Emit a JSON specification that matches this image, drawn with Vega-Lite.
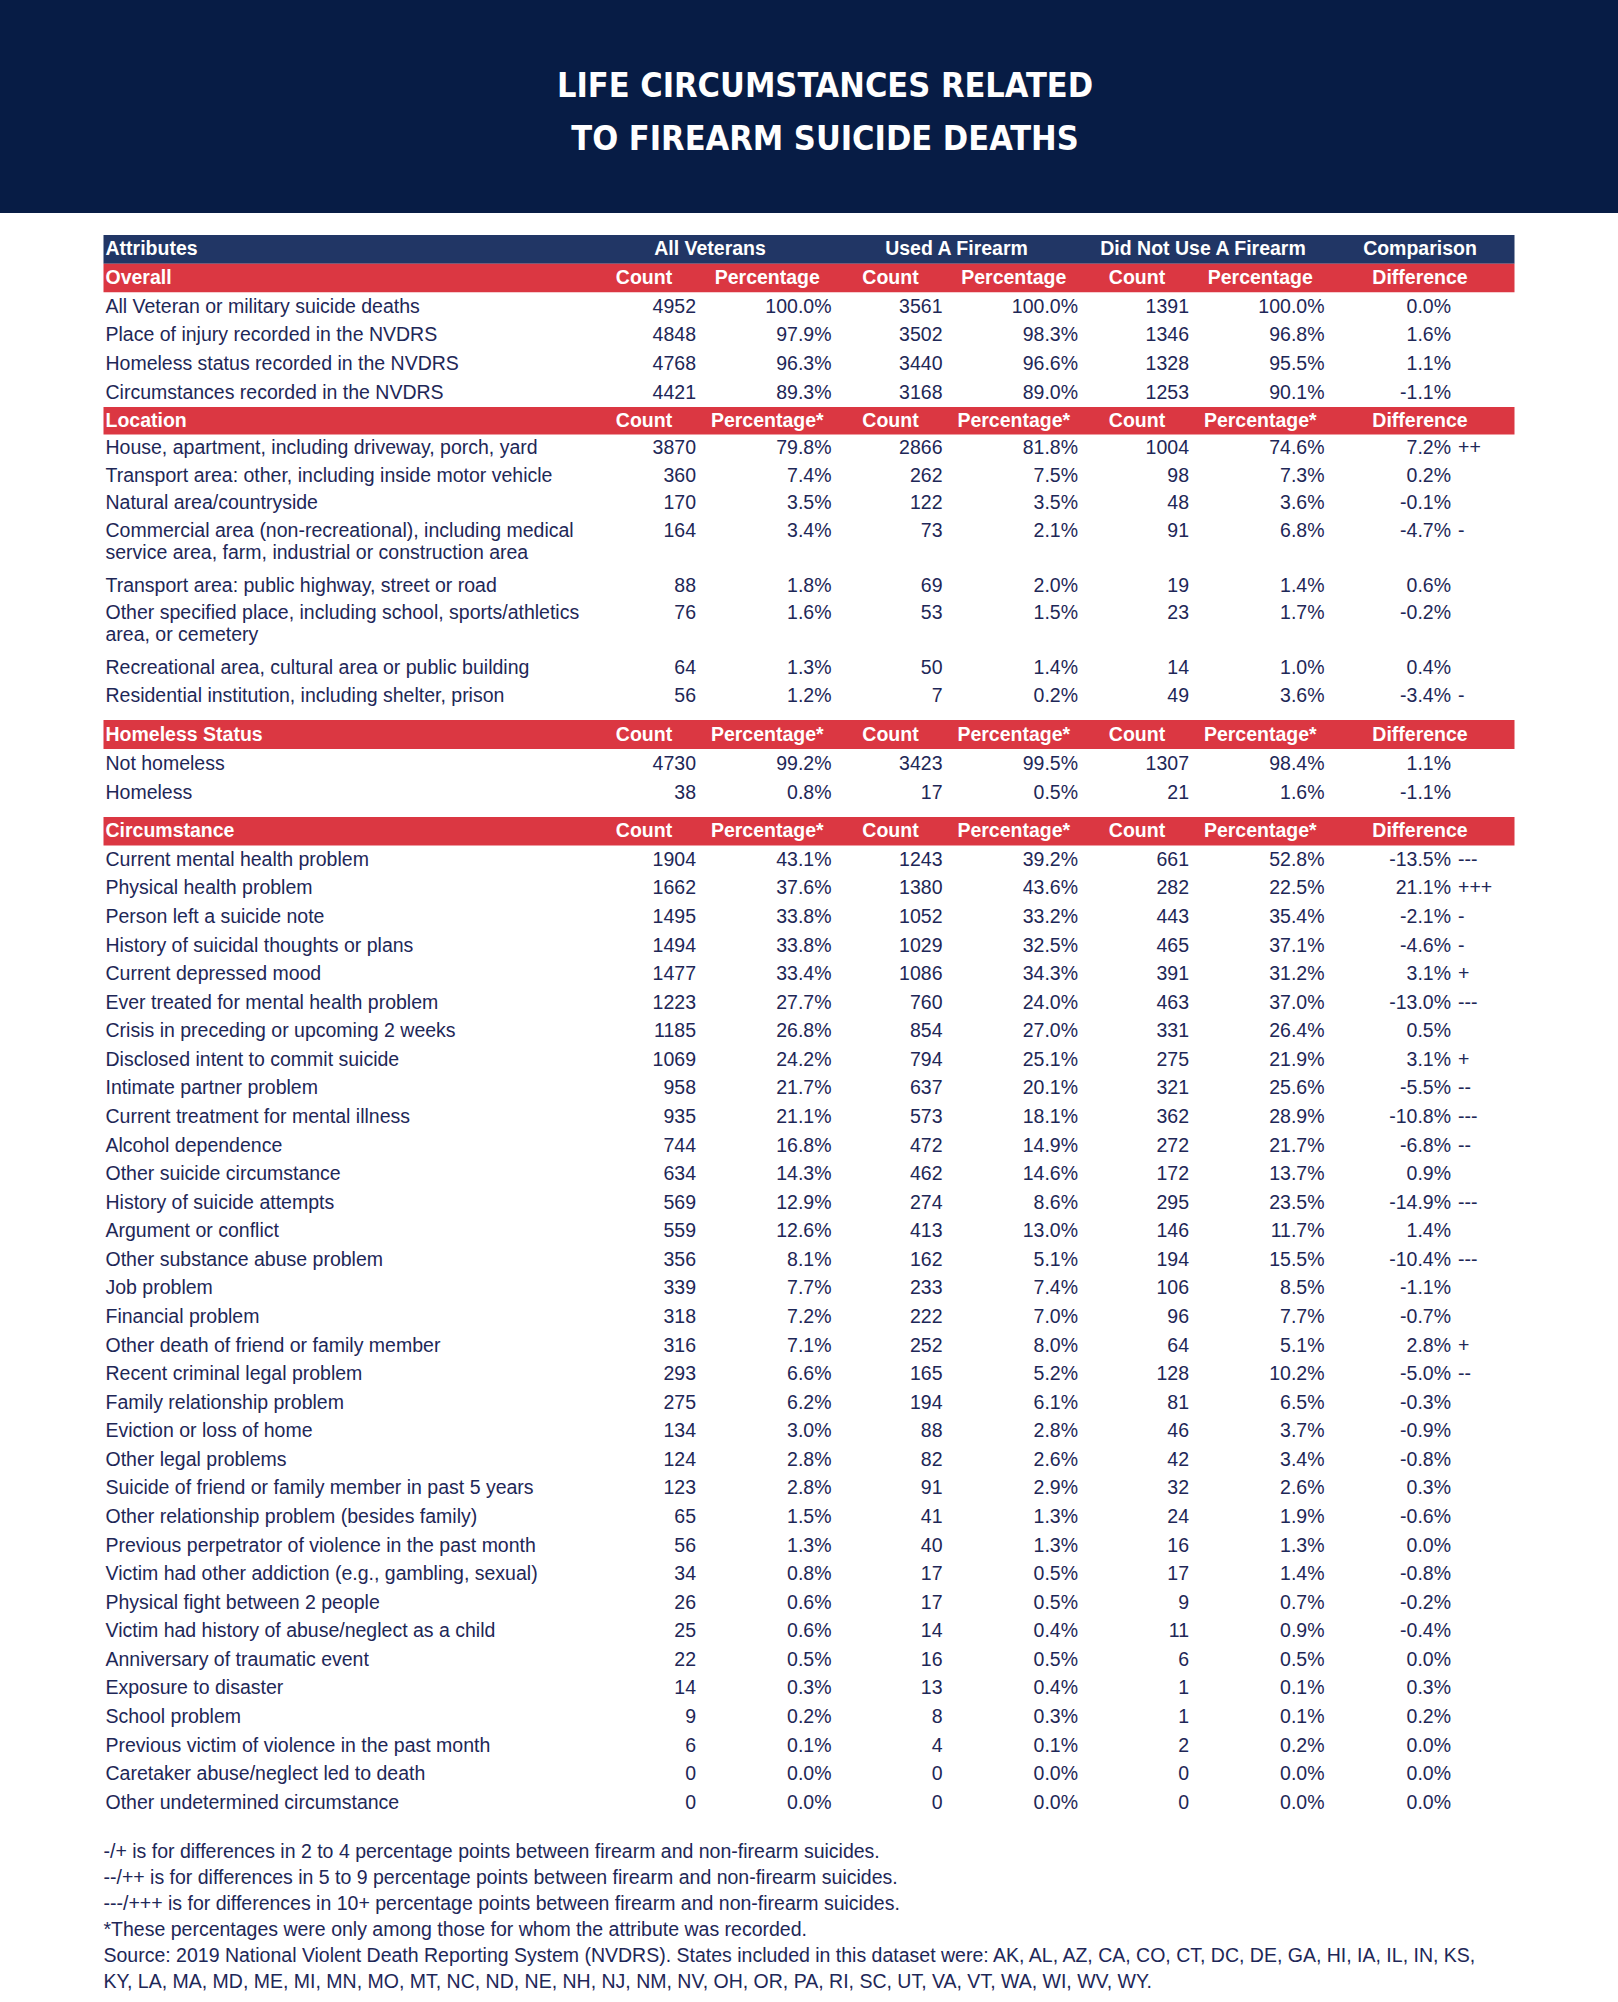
{
  "$schema": "https://vega.github.io/schema/vega-lite/v6.json",
  "padding": 0,
  "background": "white",
  "config": {
    "view": {"stroke": null},
    "text": {"font": "Liberation Sans", "fontSize": 19.5, "color": "#1E2757"},
    "locale": {"number": {"decimal": ".", "thousands": ",", "grouping": [3], "currency": ["$", ""], "minus": "-"}}
  },
  "datasets": {
    "titleLines": [
      {"line": "LIFE CIRCUMSTANCES RELATED"},
      {"line": "TO FIREARM SUICIDE DEATHS"}
    ],
    "notes": [
      {"note": "-/+ is for differences in 2 to 4 percentage points between firearm and non-firearm suicides."},
      {"note": "--/++ is for differences in 5 to 9 percentage points between firearm and non-firearm suicides."},
      {"note": "---/+++ is for differences in 10+ percentage points between firearm and non-firearm suicides."},
      {"note": "*These percentages were only among those for whom the attribute was recorded."},
      {"note": "Source: 2019 National Violent Death Reporting System (NVDRS). States included in this dataset were: AK, AL, AZ, CA, CO, CT, DC, DE, GA, HI, IA, IL, IN, KS,"},
      {"note": "KY, LA, MA, MD, ME, MI, MN, MO, MT, NC, ND, NE, NH, NJ, NM, NV, OH, OR, PA, RI, SC, UT, VA, VT, WA, WI, WV, WY."}
    ],
    "table": [
      {"section": "Overall", "kind": "group", "attribute": "Attributes", "all_count": "All Veterans", "fa_count": "Used A Firearm", "nf_count": "Did Not Use A Firearm", "diff": "Comparison"},
      {"section": "Overall", "kind": "header", "attribute": "Overall", "all_count": "Count", "all_pct": "Percentage", "fa_count": "Count", "fa_pct": "Percentage", "nf_count": "Count", "nf_pct": "Percentage", "diff": "Difference"},
      {"section": "Overall", "kind": "data", "attribute": "All Veteran or military suicide deaths", "all_count": 4952, "all_pct": 1.0, "fa_count": 3561, "fa_pct": 1.0, "nf_count": 1391, "nf_pct": 1.0, "diff": 0.0, "sig": ""},
      {"section": "Overall", "kind": "data", "attribute": "Place of injury recorded in the NVDRS", "all_count": 4848, "all_pct": 0.979, "fa_count": 3502, "fa_pct": 0.983, "nf_count": 1346, "nf_pct": 0.968, "diff": 0.016, "sig": ""},
      {"section": "Overall", "kind": "data", "attribute": "Homeless status recorded in the NVDRS", "all_count": 4768, "all_pct": 0.963, "fa_count": 3440, "fa_pct": 0.966, "nf_count": 1328, "nf_pct": 0.955, "diff": 0.011, "sig": ""},
      {"section": "Overall", "kind": "data", "attribute": "Circumstances recorded in the NVDRS", "all_count": 4421, "all_pct": 0.893, "fa_count": 3168, "fa_pct": 0.89, "nf_count": 1253, "nf_pct": 0.901, "diff": -0.011, "sig": ""},

      {"section": "Location", "kind": "header", "attribute": "Location", "all_count": "Count", "all_pct": "Percentage*", "fa_count": "Count", "fa_pct": "Percentage*", "nf_count": "Count", "nf_pct": "Percentage*", "diff": "Difference"},
      {"section": "Location", "kind": "data", "attribute": "House, apartment, including driveway, porch, yard", "all_count": 3870, "all_pct": 0.798, "fa_count": 2866, "fa_pct": 0.818, "nf_count": 1004, "nf_pct": 0.746, "diff": 0.072, "sig": "++"},
      {"section": "Location", "kind": "data", "attribute": "Transport area: other, including inside motor vehicle", "all_count": 360, "all_pct": 0.074, "fa_count": 262, "fa_pct": 0.075, "nf_count": 98, "nf_pct": 0.073, "diff": 0.002, "sig": ""},
      {"section": "Location", "kind": "data", "attribute": "Natural area/countryside", "all_count": 170, "all_pct": 0.035, "fa_count": 122, "fa_pct": 0.035, "nf_count": 48, "nf_pct": 0.036, "diff": -0.001, "sig": ""},
      {"section": "Location", "kind": "data", "attribute": "Commercial area (non-recreational), including medical\nservice area, farm, industrial or construction area", "all_count": 164, "all_pct": 0.034, "fa_count": 73, "fa_pct": 0.021, "nf_count": 91, "nf_pct": 0.068, "diff": -0.047, "sig": "-"},
      {"section": "Location", "kind": "data", "attribute": "Transport area: public highway, street or road", "all_count": 88, "all_pct": 0.018, "fa_count": 69, "fa_pct": 0.02, "nf_count": 19, "nf_pct": 0.014, "diff": 0.006, "sig": ""},
      {"section": "Location", "kind": "data", "attribute": "Other specified place, including school, sports/athletics\narea, or cemetery", "all_count": 76, "all_pct": 0.016, "fa_count": 53, "fa_pct": 0.015, "nf_count": 23, "nf_pct": 0.017, "diff": -0.002, "sig": ""},
      {"section": "Location", "kind": "data", "attribute": "Recreational area, cultural area or public building", "all_count": 64, "all_pct": 0.013, "fa_count": 50, "fa_pct": 0.014, "nf_count": 14, "nf_pct": 0.01, "diff": 0.004, "sig": ""},
      {"section": "Location", "kind": "data", "attribute": "Residential institution, including shelter, prison", "all_count": 56, "all_pct": 0.012, "fa_count": 7, "fa_pct": 0.002, "nf_count": 49, "nf_pct": 0.036, "diff": -0.034, "sig": "-"},

      {"section": "Homeless Status", "kind": "header", "attribute": "Homeless Status", "all_count": "Count", "all_pct": "Percentage*", "fa_count": "Count", "fa_pct": "Percentage*", "nf_count": "Count", "nf_pct": "Percentage*", "diff": "Difference"},
      {"section": "Homeless Status", "kind": "data", "attribute": "Not homeless", "all_count": 4730, "all_pct": 0.992, "fa_count": 3423, "fa_pct": 0.995, "nf_count": 1307, "nf_pct": 0.984, "diff": 0.011, "sig": ""},
      {"section": "Homeless Status", "kind": "data", "attribute": "Homeless", "all_count": 38, "all_pct": 0.008, "fa_count": 17, "fa_pct": 0.005, "nf_count": 21, "nf_pct": 0.016, "diff": -0.011, "sig": ""},

      {"section": "Circumstance", "kind": "header", "attribute": "Circumstance", "all_count": "Count", "all_pct": "Percentage*", "fa_count": "Count", "fa_pct": "Percentage*", "nf_count": "Count", "nf_pct": "Percentage*", "diff": "Difference"},
      {"section": "Circumstance", "kind": "data", "attribute": "Current mental health problem", "all_count": 1904, "all_pct": 0.431, "fa_count": 1243, "fa_pct": 0.392, "nf_count": 661, "nf_pct": 0.528, "diff": -0.135, "sig": "---"},
      {"section": "Circumstance", "kind": "data", "attribute": "Physical health problem", "all_count": 1662, "all_pct": 0.376, "fa_count": 1380, "fa_pct": 0.436, "nf_count": 282, "nf_pct": 0.225, "diff": 0.211, "sig": "+++"},
      {"section": "Circumstance", "kind": "data", "attribute": "Person left a suicide note", "all_count": 1495, "all_pct": 0.338, "fa_count": 1052, "fa_pct": 0.332, "nf_count": 443, "nf_pct": 0.354, "diff": -0.021, "sig": "-"},
      {"section": "Circumstance", "kind": "data", "attribute": "History of suicidal thoughts or plans", "all_count": 1494, "all_pct": 0.338, "fa_count": 1029, "fa_pct": 0.325, "nf_count": 465, "nf_pct": 0.371, "diff": -0.046, "sig": "-"},
      {"section": "Circumstance", "kind": "data", "attribute": "Current depressed mood", "all_count": 1477, "all_pct": 0.334, "fa_count": 1086, "fa_pct": 0.343, "nf_count": 391, "nf_pct": 0.312, "diff": 0.031, "sig": "+"},
      {"section": "Circumstance", "kind": "data", "attribute": "Ever treated for mental health problem", "all_count": 1223, "all_pct": 0.277, "fa_count": 760, "fa_pct": 0.24, "nf_count": 463, "nf_pct": 0.37, "diff": -0.13, "sig": "---"},
      {"section": "Circumstance", "kind": "data", "attribute": "Crisis in preceding or upcoming 2 weeks", "all_count": 1185, "all_pct": 0.268, "fa_count": 854, "fa_pct": 0.27, "nf_count": 331, "nf_pct": 0.264, "diff": 0.005, "sig": ""},
      {"section": "Circumstance", "kind": "data", "attribute": "Disclosed intent to commit suicide", "all_count": 1069, "all_pct": 0.242, "fa_count": 794, "fa_pct": 0.251, "nf_count": 275, "nf_pct": 0.219, "diff": 0.031, "sig": "+"},
      {"section": "Circumstance", "kind": "data", "attribute": "Intimate partner problem", "all_count": 958, "all_pct": 0.217, "fa_count": 637, "fa_pct": 0.201, "nf_count": 321, "nf_pct": 0.256, "diff": -0.055, "sig": "--"},
      {"section": "Circumstance", "kind": "data", "attribute": "Current treatment for mental illness", "all_count": 935, "all_pct": 0.211, "fa_count": 573, "fa_pct": 0.181, "nf_count": 362, "nf_pct": 0.289, "diff": -0.108, "sig": "---"},
      {"section": "Circumstance", "kind": "data", "attribute": "Alcohol dependence", "all_count": 744, "all_pct": 0.168, "fa_count": 472, "fa_pct": 0.149, "nf_count": 272, "nf_pct": 0.217, "diff": -0.068, "sig": "--"},
      {"section": "Circumstance", "kind": "data", "attribute": "Other suicide circumstance", "all_count": 634, "all_pct": 0.143, "fa_count": 462, "fa_pct": 0.146, "nf_count": 172, "nf_pct": 0.137, "diff": 0.009, "sig": ""},
      {"section": "Circumstance", "kind": "data", "attribute": "History of suicide attempts", "all_count": 569, "all_pct": 0.129, "fa_count": 274, "fa_pct": 0.086, "nf_count": 295, "nf_pct": 0.235, "diff": -0.149, "sig": "---"},
      {"section": "Circumstance", "kind": "data", "attribute": "Argument or conflict", "all_count": 559, "all_pct": 0.126, "fa_count": 413, "fa_pct": 0.13, "nf_count": 146, "nf_pct": 0.117, "diff": 0.014, "sig": ""},
      {"section": "Circumstance", "kind": "data", "attribute": "Other substance abuse problem", "all_count": 356, "all_pct": 0.081, "fa_count": 162, "fa_pct": 0.051, "nf_count": 194, "nf_pct": 0.155, "diff": -0.104, "sig": "---"},
      {"section": "Circumstance", "kind": "data", "attribute": "Job problem", "all_count": 339, "all_pct": 0.077, "fa_count": 233, "fa_pct": 0.074, "nf_count": 106, "nf_pct": 0.085, "diff": -0.011, "sig": ""},
      {"section": "Circumstance", "kind": "data", "attribute": "Financial problem", "all_count": 318, "all_pct": 0.072, "fa_count": 222, "fa_pct": 0.07, "nf_count": 96, "nf_pct": 0.077, "diff": -0.007, "sig": ""},
      {"section": "Circumstance", "kind": "data", "attribute": "Other death of friend or family member", "all_count": 316, "all_pct": 0.071, "fa_count": 252, "fa_pct": 0.08, "nf_count": 64, "nf_pct": 0.051, "diff": 0.028, "sig": "+"},
      {"section": "Circumstance", "kind": "data", "attribute": "Recent criminal legal problem", "all_count": 293, "all_pct": 0.066, "fa_count": 165, "fa_pct": 0.052, "nf_count": 128, "nf_pct": 0.102, "diff": -0.05, "sig": "--"},
      {"section": "Circumstance", "kind": "data", "attribute": "Family relationship problem", "all_count": 275, "all_pct": 0.062, "fa_count": 194, "fa_pct": 0.061, "nf_count": 81, "nf_pct": 0.065, "diff": -0.003, "sig": ""},
      {"section": "Circumstance", "kind": "data", "attribute": "Eviction or loss of home", "all_count": 134, "all_pct": 0.03, "fa_count": 88, "fa_pct": 0.028, "nf_count": 46, "nf_pct": 0.037, "diff": -0.009, "sig": ""},
      {"section": "Circumstance", "kind": "data", "attribute": "Other legal problems", "all_count": 124, "all_pct": 0.028, "fa_count": 82, "fa_pct": 0.026, "nf_count": 42, "nf_pct": 0.034, "diff": -0.008, "sig": ""},
      {"section": "Circumstance", "kind": "data", "attribute": "Suicide of friend or family member in past 5 years", "all_count": 123, "all_pct": 0.028, "fa_count": 91, "fa_pct": 0.029, "nf_count": 32, "nf_pct": 0.026, "diff": 0.003, "sig": ""},
      {"section": "Circumstance", "kind": "data", "attribute": "Other relationship problem (besides family)", "all_count": 65, "all_pct": 0.015, "fa_count": 41, "fa_pct": 0.013, "nf_count": 24, "nf_pct": 0.019, "diff": -0.006, "sig": ""},
      {"section": "Circumstance", "kind": "data", "attribute": "Previous perpetrator of violence in the past month", "all_count": 56, "all_pct": 0.013, "fa_count": 40, "fa_pct": 0.013, "nf_count": 16, "nf_pct": 0.013, "diff": 0.0, "sig": ""},
      {"section": "Circumstance", "kind": "data", "attribute": "Victim had other addiction (e.g., gambling, sexual)", "all_count": 34, "all_pct": 0.008, "fa_count": 17, "fa_pct": 0.005, "nf_count": 17, "nf_pct": 0.014, "diff": -0.008, "sig": ""},
      {"section": "Circumstance", "kind": "data", "attribute": "Physical fight between 2 people", "all_count": 26, "all_pct": 0.006, "fa_count": 17, "fa_pct": 0.005, "nf_count": 9, "nf_pct": 0.007, "diff": -0.002, "sig": ""},
      {"section": "Circumstance", "kind": "data", "attribute": "Victim had history of abuse/neglect as a child", "all_count": 25, "all_pct": 0.006, "fa_count": 14, "fa_pct": 0.004, "nf_count": 11, "nf_pct": 0.009, "diff": -0.004, "sig": ""},
      {"section": "Circumstance", "kind": "data", "attribute": "Anniversary of traumatic event", "all_count": 22, "all_pct": 0.005, "fa_count": 16, "fa_pct": 0.005, "nf_count": 6, "nf_pct": 0.005, "diff": 0.0, "sig": ""},
      {"section": "Circumstance", "kind": "data", "attribute": "Exposure to disaster", "all_count": 14, "all_pct": 0.003, "fa_count": 13, "fa_pct": 0.004, "nf_count": 1, "nf_pct": 0.001, "diff": 0.003, "sig": ""},
      {"section": "Circumstance", "kind": "data", "attribute": "School problem", "all_count": 9, "all_pct": 0.002, "fa_count": 8, "fa_pct": 0.003, "nf_count": 1, "nf_pct": 0.001, "diff": 0.002, "sig": ""},
      {"section": "Circumstance", "kind": "data", "attribute": "Previous victim of violence in the past month", "all_count": 6, "all_pct": 0.001, "fa_count": 4, "fa_pct": 0.001, "nf_count": 2, "nf_pct": 0.002, "diff": 0.0, "sig": ""},
      {"section": "Circumstance", "kind": "data", "attribute": "Caretaker abuse/neglect led to death", "all_count": 0, "all_pct": 0.0, "fa_count": 0, "fa_pct": 0.0, "nf_count": 0, "nf_pct": 0.0, "diff": 0.0, "sig": ""},
      {"section": "Circumstance", "kind": "data", "attribute": "Other undetermined circumstance", "all_count": 0, "all_pct": 0.0, "fa_count": 0, "fa_pct": 0.0, "nf_count": 0, "nf_pct": 0.0, "diff": 0.0, "sig": ""}
    ]
  },
  "vconcat": [
    {
      "width": 1618,
      "height": 213,
      "view": {"fill": "#071C45", "stroke": null},
      "data": {"name": "titleLines"},
      "mark": {"type": "text", "font": "DejaVu Sans Condensed, Liberation Sans Narrow, sans-serif", "fontWeight": "bold", "fontSize": 34, "color": "white", "align": "center", "baseline": "middle", "dx": 16, "dy": 7},
      "encoding": {
        "y": {"field": "line", "type": "nominal", "sort": null, "axis": null, "scale": {"type": "band", "paddingInner": 0, "paddingOuter": 1.088}},
        "text": {"field": "line"}
      }
    },
    {
      "vconcat": [
        {
          "vconcat": [
            {
              "width": 1411,
              "height": 172,
              "data": {"name": "table"},
              "transform": [{"filter": "datum.section === 'Overall'"}, {"window": [{"op": "row_number", "as": "rn"}]}],
              "encoding": {"y": {"field": "rn", "type": "ordinal", "axis": null, "scale": {"type": "band", "paddingInner": 0, "paddingOuter": 0}}},
              "layer": [
                {"transform": [{"filter": "datum.kind !== 'data'"}], "mark": {"type": "rect"}, "encoding": {"color": {"condition": {"test": "datum.kind === 'group'", "value": "#213665"}, "value": "#DB3742"}}},
                {"transform": [{"filter": "datum.kind !== 'data'"}], "mark": {"type": "text", "align": "left", "baseline": "middle", "dx": -590.5, "fontWeight": "bold", "color": "white"}, "encoding": {"x": {"datum": "all_count", "type": "nominal", "axis": null, "scale": {"type": "point", "domain": ["all_count", "all_pct", "fa_count", "fa_pct", "nf_count", "nf_pct", "diff"], "range": [592.5, 1332], "padding": 0}}, "text": {"field": "attribute"}}},
                {"transform": [{"filter": "datum.kind === 'data'"}], "mark": {"type": "text", "align": "left", "baseline": "top", "dy": -9, "dx": -590.5, "lineBreak": "\n", "lineHeight": 22}, "encoding": {"x": {"datum": "all_count", "type": "nominal"}, "text": {"field": "attribute"}}},
                {"transform": [{"filter": "datum.kind === 'data'"}, {"fold": ["all_count", "fa_count", "nf_count"], "as": ["col", "value"]}], "mark": {"type": "text", "align": "right", "baseline": "middle"}, "encoding": {"x": {"field": "col", "type": "nominal"}, "text": {"field": "value", "type": "quantitative", "format": "d"}}},
                {"transform": [{"filter": "datum.kind === 'data'"}, {"fold": ["all_pct", "fa_pct", "nf_pct"], "as": ["col", "value"]}], "mark": {"type": "text", "align": "right", "baseline": "middle", "dx": 12.25}, "encoding": {"x": {"field": "col", "type": "nominal"}, "text": {"field": "value", "type": "quantitative", "format": ".1%"}}},
                {"transform": [{"filter": "datum.kind === 'data'"}], "mark": {"type": "text", "align": "right", "baseline": "middle", "dx": 15.5}, "encoding": {"x": {"datum": "diff", "type": "nominal"}, "text": {"field": "diff", "type": "quantitative", "format": ".1%"}}},
                {"transform": [{"filter": "datum.kind === 'data'"}], "mark": {"type": "text", "align": "left", "baseline": "middle", "dx": 22.5}, "encoding": {"x": {"datum": "diff", "type": "nominal"}, "text": {"field": "sig"}}},
                {"transform": [{"filter": "datum.kind === 'header'"}, {"fold": ["all_count", "all_pct", "fa_count", "fa_pct", "nf_count", "nf_pct"], "as": ["col", "value"]}], "mark": {"type": "text", "align": "center", "baseline": "middle", "dx": -52, "fontWeight": "bold", "color": "white"}, "encoding": {"x": {"field": "col", "type": "nominal"}, "text": {"field": "value"}}},
                {"transform": [{"filter": "datum.kind === 'group'"}, {"fold": ["all_count", "fa_count", "nf_count"], "as": ["col", "value"]}], "mark": {"type": "text", "align": "center", "baseline": "middle", "dx": 14, "fontWeight": "bold", "color": "white"}, "encoding": {"x": {"field": "col", "type": "nominal"}, "text": {"field": "value"}}},
                {"transform": [{"filter": "datum.kind !== 'data'"}], "mark": {"type": "text", "align": "center", "baseline": "middle", "dx": -15.5, "fontWeight": "bold", "color": "white"}, "encoding": {"x": {"datum": "diff", "type": "nominal"}, "text": {"field": "diff"}}}
              ]
            },
            {
              "width": 1411,
              "height": 302.5,
              "data": {"name": "table"},
              "transform": [{"filter": "datum.section === 'Location'"}, {"window": [{"op": "row_number", "as": "rn"}]}],
              "encoding": {"y": {"field": "rn", "type": "ordinal", "axis": null, "scale": {"type": "band", "domain": [1, 2, 3, 4, 5, 5.5, 6, 7, 7.5, 8, 9], "paddingInner": 0, "paddingOuter": 0}}},
              "layer": [
                {"transform": [{"filter": "datum.kind !== 'data'"}], "mark": {"type": "rect"}, "encoding": {"color": {"value": "#DB3742"}}},
                {"transform": [{"filter": "datum.kind !== 'data'"}], "mark": {"type": "text", "align": "left", "baseline": "middle", "dx": -590.5, "fontWeight": "bold", "color": "white"}, "encoding": {"x": {"datum": "all_count", "type": "nominal", "axis": null, "scale": {"type": "point", "domain": ["all_count", "all_pct", "fa_count", "fa_pct", "nf_count", "nf_pct", "diff"], "range": [592.5, 1332], "padding": 0}}, "text": {"field": "attribute"}}},
                {"transform": [{"filter": "datum.kind === 'data'"}], "mark": {"type": "text", "align": "left", "baseline": "top", "dy": -9, "dx": -590.5, "lineBreak": "\n", "lineHeight": 22}, "encoding": {"x": {"datum": "all_count", "type": "nominal"}, "text": {"field": "attribute"}}},
                {"transform": [{"filter": "datum.kind === 'data'"}, {"fold": ["all_count", "fa_count", "nf_count"], "as": ["col", "value"]}], "mark": {"type": "text", "align": "right", "baseline": "middle"}, "encoding": {"x": {"field": "col", "type": "nominal"}, "text": {"field": "value", "type": "quantitative", "format": "d"}}},
                {"transform": [{"filter": "datum.kind === 'data'"}, {"fold": ["all_pct", "fa_pct", "nf_pct"], "as": ["col", "value"]}], "mark": {"type": "text", "align": "right", "baseline": "middle", "dx": 12.25}, "encoding": {"x": {"field": "col", "type": "nominal"}, "text": {"field": "value", "type": "quantitative", "format": ".1%"}}},
                {"transform": [{"filter": "datum.kind === 'data'"}], "mark": {"type": "text", "align": "right", "baseline": "middle", "dx": 15.5}, "encoding": {"x": {"datum": "diff", "type": "nominal"}, "text": {"field": "diff", "type": "quantitative", "format": ".1%"}}},
                {"transform": [{"filter": "datum.kind === 'data'"}], "mark": {"type": "text", "align": "left", "baseline": "middle", "dx": 22.5}, "encoding": {"x": {"datum": "diff", "type": "nominal"}, "text": {"field": "sig"}}},
                {"transform": [{"filter": "datum.kind === 'header'"}, {"fold": ["all_count", "all_pct", "fa_count", "fa_pct", "nf_count", "nf_pct"], "as": ["col", "value"]}], "mark": {"type": "text", "align": "center", "baseline": "middle", "dx": -52, "fontWeight": "bold", "color": "white"}, "encoding": {"x": {"field": "col", "type": "nominal"}, "text": {"field": "value"}}},
                {"transform": [{"filter": "datum.kind !== 'data'"}], "mark": {"type": "text", "align": "center", "baseline": "middle", "dx": -15.5, "fontWeight": "bold", "color": "white"}, "encoding": {"x": {"datum": "diff", "type": "nominal"}, "text": {"field": "diff"}}}
              ]
            }
          ],
          "spacing": 0,
          "resolve": {"scale": {"x": "independent", "y": "independent"}}
        },
        {
          "width": 1411,
          "height": 87,
          "data": {"name": "table"},
          "transform": [{"filter": "datum.section === 'Homeless Status'"}, {"window": [{"op": "row_number", "as": "rn"}]}],
          "encoding": {"y": {"field": "rn", "type": "ordinal", "axis": null, "scale": {"type": "band", "paddingInner": 0, "paddingOuter": 0}}},
          "layer": [
            {"transform": [{"filter": "datum.kind !== 'data'"}], "mark": {"type": "rect"}, "encoding": {"color": {"value": "#DB3742"}}},
            {"transform": [{"filter": "datum.kind !== 'data'"}], "mark": {"type": "text", "align": "left", "baseline": "middle", "dx": -590.5, "fontWeight": "bold", "color": "white"}, "encoding": {"x": {"datum": "all_count", "type": "nominal", "axis": null, "scale": {"type": "point", "domain": ["all_count", "all_pct", "fa_count", "fa_pct", "nf_count", "nf_pct", "diff"], "range": [592.5, 1332], "padding": 0}}, "text": {"field": "attribute"}}},
            {"transform": [{"filter": "datum.kind === 'data'"}], "mark": {"type": "text", "align": "left", "baseline": "top", "dy": -9, "dx": -590.5, "lineBreak": "\n", "lineHeight": 22}, "encoding": {"x": {"datum": "all_count", "type": "nominal"}, "text": {"field": "attribute"}}},
            {"transform": [{"filter": "datum.kind === 'data'"}, {"fold": ["all_count", "fa_count", "nf_count"], "as": ["col", "value"]}], "mark": {"type": "text", "align": "right", "baseline": "middle"}, "encoding": {"x": {"field": "col", "type": "nominal"}, "text": {"field": "value", "type": "quantitative", "format": "d"}}},
            {"transform": [{"filter": "datum.kind === 'data'"}, {"fold": ["all_pct", "fa_pct", "nf_pct"], "as": ["col", "value"]}], "mark": {"type": "text", "align": "right", "baseline": "middle", "dx": 12.25}, "encoding": {"x": {"field": "col", "type": "nominal"}, "text": {"field": "value", "type": "quantitative", "format": ".1%"}}},
            {"transform": [{"filter": "datum.kind === 'data'"}], "mark": {"type": "text", "align": "right", "baseline": "middle", "dx": 15.5}, "encoding": {"x": {"datum": "diff", "type": "nominal"}, "text": {"field": "diff", "type": "quantitative", "format": ".1%"}}},
            {"transform": [{"filter": "datum.kind === 'data'"}], "mark": {"type": "text", "align": "left", "baseline": "middle", "dx": 22.5}, "encoding": {"x": {"datum": "diff", "type": "nominal"}, "text": {"field": "sig"}}},
            {"transform": [{"filter": "datum.kind === 'header'"}, {"fold": ["all_count", "all_pct", "fa_count", "fa_pct", "nf_count", "nf_pct"], "as": ["col", "value"]}], "mark": {"type": "text", "align": "center", "baseline": "middle", "dx": -52, "fontWeight": "bold", "color": "white"}, "encoding": {"x": {"field": "col", "type": "nominal"}, "text": {"field": "value"}}},
            {"transform": [{"filter": "datum.kind !== 'data'"}], "mark": {"type": "text", "align": "center", "baseline": "middle", "dx": -15.5, "fontWeight": "bold", "color": "white"}, "encoding": {"x": {"datum": "diff", "type": "nominal"}, "text": {"field": "diff"}}}
          ]
        },
        {
          "width": 1411,
          "height": 1000,
          "data": {"name": "table"},
          "transform": [{"filter": "datum.section === 'Circumstance'"}, {"window": [{"op": "row_number", "as": "rn"}]}],
          "encoding": {"y": {"field": "rn", "type": "ordinal", "axis": null, "scale": {"type": "band", "paddingInner": 0, "paddingOuter": 0}}},
          "layer": [
            {"transform": [{"filter": "datum.kind !== 'data'"}], "mark": {"type": "rect"}, "encoding": {"color": {"value": "#DB3742"}}},
            {"transform": [{"filter": "datum.kind !== 'data'"}], "mark": {"type": "text", "align": "left", "baseline": "middle", "dx": -590.5, "fontWeight": "bold", "color": "white"}, "encoding": {"x": {"datum": "all_count", "type": "nominal", "axis": null, "scale": {"type": "point", "domain": ["all_count", "all_pct", "fa_count", "fa_pct", "nf_count", "nf_pct", "diff"], "range": [592.5, 1332], "padding": 0}}, "text": {"field": "attribute"}}},
            {"transform": [{"filter": "datum.kind === 'data'"}], "mark": {"type": "text", "align": "left", "baseline": "top", "dy": -9, "dx": -590.5, "lineBreak": "\n", "lineHeight": 22}, "encoding": {"x": {"datum": "all_count", "type": "nominal"}, "text": {"field": "attribute"}}},
            {"transform": [{"filter": "datum.kind === 'data'"}, {"fold": ["all_count", "fa_count", "nf_count"], "as": ["col", "value"]}], "mark": {"type": "text", "align": "right", "baseline": "middle"}, "encoding": {"x": {"field": "col", "type": "nominal"}, "text": {"field": "value", "type": "quantitative", "format": "d"}}},
            {"transform": [{"filter": "datum.kind === 'data'"}, {"fold": ["all_pct", "fa_pct", "nf_pct"], "as": ["col", "value"]}], "mark": {"type": "text", "align": "right", "baseline": "middle", "dx": 12.25}, "encoding": {"x": {"field": "col", "type": "nominal"}, "text": {"field": "value", "type": "quantitative", "format": ".1%"}}},
            {"transform": [{"filter": "datum.kind === 'data'"}], "mark": {"type": "text", "align": "right", "baseline": "middle", "dx": 15.5}, "encoding": {"x": {"datum": "diff", "type": "nominal"}, "text": {"field": "diff", "type": "quantitative", "format": ".1%"}}},
            {"transform": [{"filter": "datum.kind === 'data'"}], "mark": {"type": "text", "align": "left", "baseline": "middle", "dx": 22.5}, "encoding": {"x": {"datum": "diff", "type": "nominal"}, "text": {"field": "sig"}}},
            {"transform": [{"filter": "datum.kind === 'header'"}, {"fold": ["all_count", "all_pct", "fa_count", "fa_pct", "nf_count", "nf_pct"], "as": ["col", "value"]}], "mark": {"type": "text", "align": "center", "baseline": "middle", "dx": -52, "fontWeight": "bold", "color": "white"}, "encoding": {"x": {"field": "col", "type": "nominal"}, "text": {"field": "value"}}},
            {"transform": [{"filter": "datum.kind !== 'data'"}], "mark": {"type": "text", "align": "center", "baseline": "middle", "dx": -15.5, "fontWeight": "bold", "color": "white"}, "encoding": {"x": {"datum": "diff", "type": "nominal"}, "text": {"field": "diff"}}}
          ]
        }
      ],
      "spacing": 10,
      "resolve": {"scale": {"x": "independent", "y": "independent"}}
    },
    {
      "width": 1411,
      "height": 156,
      "data": {"name": "notes"},
      "mark": {"type": "text", "align": "left", "baseline": "middle", "dx": -705.5},
      "encoding": {
        "y": {"field": "note", "type": "nominal", "sort": null, "axis": null, "scale": {"type": "band", "paddingInner": 0, "paddingOuter": 0}},
        "text": {"field": "note"}
      }
    }
  ],
  "spacing": 22,
  "center": true,
  "resolve": {"scale": {"x": "independent", "y": "independent"}}
}
